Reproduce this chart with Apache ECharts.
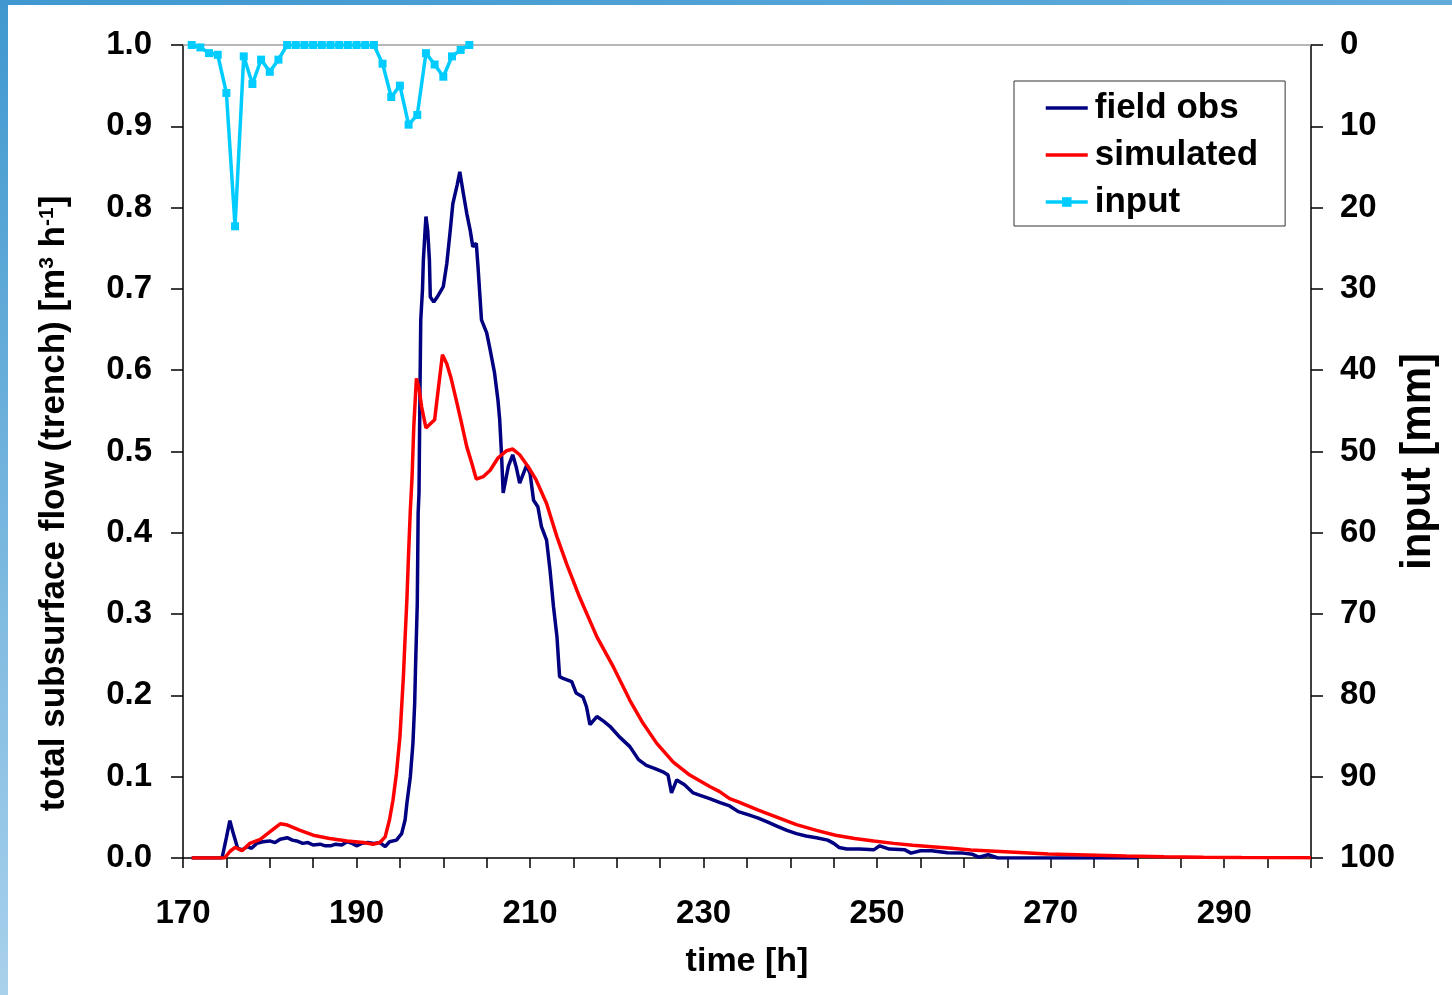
<!DOCTYPE html>
<html>
<head>
    <meta charset="utf-8">
    <title>subsurface flow</title>
    <script src="https://cdn.jsdelivr.net/npm/echarts@6/dist/echarts.min.js"></script>
    <style>
        html, body { margin: 0; padding: 0; background: #fff; }
        #main { width: 1452px; height: 995px; }
    </style>
</head>
<body>
<div id="main"></div>
<script type="text/javascript">
    // time [h], flow [m3/h]
    var fieldObs = [
        [171, 0], [174.5, 0], [175.0, 0.025], [175.4, 0.046], [175.8, 0.03], [176.3, 0.012], [176.8, 0.01],
        [177.4, 0.014], [177.9, 0.012], [178.5, 0.018], [179.2, 0.02], [180.0, 0.021], [180.6, 0.019],
        [181.2, 0.023], [182.0, 0.025], [182.6, 0.022], [183.1, 0.021], [183.8, 0.018], [184.4, 0.019],
        [185.0, 0.016], [185.8, 0.017], [186.4, 0.015], [187.0, 0.015], [187.6, 0.017], [188.3, 0.016],
        [188.9, 0.02], [189.5, 0.018], [190.0, 0.015], [190.6, 0.018], [191.3, 0.019], [192.0, 0.018],
        [192.7, 0.019], [193.3, 0.014], [193.8, 0.02], [194.6, 0.022], [195.2, 0.030], [195.6, 0.047],
        [195.8, 0.067], [196.2, 0.100], [196.5, 0.141], [196.7, 0.190], [196.8, 0.235], [197.0, 0.313],
        [197.1, 0.424], [197.2, 0.449], [197.3, 0.563], [197.4, 0.662], [197.6, 0.699], [197.7, 0.735],
        [197.9, 0.772], [198.0, 0.789], [198.2, 0.772], [198.4, 0.735], [198.5, 0.690], [198.9, 0.684],
        [199.3, 0.69], [199.8, 0.699], [200.0, 0.703], [200.4, 0.731], [200.8, 0.772], [201.1, 0.805],
        [201.6, 0.828], [201.9, 0.844], [202.3, 0.818], [202.7, 0.793], [203.1, 0.772], [203.4, 0.752],
        [203.8, 0.756], [204.0, 0.727], [204.4, 0.662], [205.0, 0.646], [205.4, 0.625], [205.9, 0.597],
        [206.3, 0.563], [206.5, 0.539], [206.7, 0.498], [206.9, 0.449], [207.5, 0.482], [208.0, 0.496],
        [208.4, 0.481], [208.8, 0.461], [209.6, 0.483], [210.0, 0.473], [210.4, 0.44], [210.9, 0.432],
        [211.3, 0.408], [211.9, 0.391], [212.3, 0.354], [212.7, 0.309], [213.1, 0.272], [213.4, 0.223],
        [213.8, 0.221], [214.8, 0.217], [215.3, 0.203], [216.1, 0.198], [216.5, 0.186], [216.9, 0.164],
        [217.7, 0.174], [218.5, 0.168], [219.2, 0.162], [220.3, 0.149], [221.5, 0.137], [222.5, 0.121],
        [223.4, 0.114], [224.4, 0.110], [225.3, 0.106], [225.9, 0.102], [226.3, 0.080], [226.9, 0.096],
        [227.8, 0.090], [228.8, 0.080], [229.6, 0.077], [230.7, 0.073], [231.9, 0.068], [233.0, 0.064],
        [234.0, 0.057], [235.2, 0.053], [236.3, 0.049], [237.4, 0.044], [238.5, 0.039], [239.6, 0.034],
        [240.7, 0.030], [241.8, 0.027], [243.0, 0.025], [244.3, 0.022], [245.0, 0.018], [245.6, 0.013],
        [246.5, 0.011], [248.0, 0.011], [249.6, 0.010], [250.3, 0.015], [251.4, 0.011], [253.2, 0.010],
        [253.9, 0.006], [255.0, 0.009], [256.3, 0.009], [258.1, 0.0065], [259.9, 0.006], [261.0, 0.0045],
        [261.7, 0.001], [262.8, 0.004], [263.9, 0], [280, 0]
    ];

    var simulated = [
        [171, 0], [174.8, 0], [175.4, 0.008], [176.0, 0.013], [176.8, 0.009], [177.7, 0.018], [178.9, 0.023],
        [180.0, 0.032], [181.2, 0.042], [181.9, 0.041], [183.5, 0.034], [185.0, 0.028], [186.9, 0.024],
        [188.9, 0.021], [190.8, 0.019], [191.9, 0.017], [192.7, 0.019], [193.3, 0.026], [193.8, 0.047],
        [194.2, 0.071], [194.6, 0.104], [195.0, 0.149], [195.2, 0.186], [195.4, 0.223], [195.6, 0.272],
        [195.8, 0.317], [196.0, 0.375], [196.2, 0.428], [196.4, 0.469], [196.6, 0.531], [196.9, 0.590],
        [197.2, 0.578], [197.5, 0.555], [198.0, 0.529], [199.0, 0.539], [199.4, 0.575], [199.9, 0.619],
        [200.4, 0.608], [200.9, 0.590], [201.5, 0.563], [202.1, 0.535], [202.7, 0.506], [203.3, 0.485],
        [203.8, 0.466], [204.6, 0.469], [205.4, 0.477], [206.3, 0.492], [207.3, 0.501], [208.0, 0.503],
        [208.8, 0.496], [209.8, 0.481], [210.7, 0.465], [211.9, 0.436], [213.1, 0.395], [214.2, 0.362],
        [215.7, 0.321], [217.7, 0.272], [219.6, 0.235], [221.5, 0.194], [223.0, 0.166], [224.6, 0.141],
        [226.5, 0.118], [228.4, 0.102], [230.7, 0.088], [231.8, 0.082], [233.0, 0.073], [234.0, 0.069],
        [236.3, 0.059], [238.5, 0.050], [240.7, 0.041], [243.0, 0.034], [245.2, 0.028], [247.4, 0.024],
        [249.6, 0.021], [251.9, 0.018], [254.1, 0.0156], [256.3, 0.0139], [258.6, 0.012], [260.8, 0.0098],
        [265.3, 0.0074], [269.7, 0.0049], [274.2, 0.0037], [278.7, 0.0025], [283.1, 0.0016], [287.6, 0.0008],
        [292, 0.0006], [300, 0.0004]
    ];

    // hourly input [mm]
    var inputHours = [171, 172, 173, 174, 175, 176, 177, 178, 179, 180, 181, 182, 183, 184, 185, 186, 187,
        188, 189, 190, 191, 192, 193, 194, 195, 196, 197, 198, 199, 200, 201, 202, 203];
    var inputMm = [0, 0.3, 1.0, 1.2, 5.9, 22.3, 1.4, 4.8, 1.8, 3.3, 1.8, 0, 0, 0, 0, 0, 0,
        0, 0, 0, 0, 0, 2.3, 6.4, 5.0, 9.8, 8.6, 1.0, 2.4, 3.9, 1.4, 0.6, 0];

    var xTicks = [170, 190, 210, 230, 250, 270, 290];

    var FONT = "'Liberation Sans', Arial, sans-serif";

    var chart = echarts.init(document.getElementById('main'));

    chart.setOption({
        animation: false,
        backgroundColor: '#fff',
        textStyle: { fontFamily: FONT },
        graphic: [
            {
                type: 'rect', left: 0, top: 0, z: 100,
                shape: { width: 8, height: 995 },
                style: { fill: new echarts.graphic.LinearGradient(0, 0, 0, 1, [
                    { offset: 0, color: '#3f98cf' }, { offset: 1, color: '#a9d1ec' }]) }
            },
            {
                type: 'rect', left: 0, top: 0, z: 100,
                shape: { width: 1452, height: 5 },
                style: { fill: new echarts.graphic.LinearGradient(0, 0, 1, 0, [
                    { offset: 0, color: '#3f98cf' }, { offset: 1, color: '#62acdc' }]) }
            }
        ],
        grid: { left: 183, right: 141, top: 45, bottom: 137, outerBoundsMode: 'none', containLabel: false },
        legend: {
            orient: 'vertical',
            left: 1014,
            top: 81,
            padding: [9, 27, 6, 30],
            itemWidth: 42,
            itemHeight: 12,
            itemGap: 11,
            borderColor: '#333',
            borderWidth: 1,
            backgroundColor: '#fff',
            textStyle: { fontFamily: FONT, fontSize: 35, fontWeight: 'bold', color: '#000', lineHeight: 36, padding: [0, 0, 0, 2] },
            data: [
                { name: 'field obs', itemStyle: { opacity: 0 }, lineStyle: { width: 3.5 } },
                { name: 'simulated', itemStyle: { opacity: 0 }, lineStyle: { width: 3.5 } },
                { name: 'input', lineStyle: { width: 3.5 } }
            ]
        },
        xAxis: [
            {
                type: 'value',
                min: 170,
                max: 300,
                interval: 10,
                name: 'time [h]',
                nameLocation: 'middle',
                nameGap: 87,
                nameTextStyle: { fontFamily: FONT, fontSize: 34, fontWeight: 'bold', color: '#000' },
                axisLine: { lineStyle: { color: '#000', width: 1.5 } },
                axisTick: { show: true, length: 10, lineStyle: { color: '#000', width: 1.5 } },
                minorTick: { show: true, splitNumber: 2, length: 10, lineStyle: { color: '#000', width: 1.5 } },
                splitLine: { show: false },
                axisLabel: {
                    margin: 39,
                    fontFamily: FONT, fontSize: 33, fontWeight: 'bold', color: '#000',
                    formatter: function (v) { return xTicks.indexOf(v) >= 0 ? String(v) : ''; }
                }
            },
            {
                type: 'value',
                position: 'top',
                min: 170,
                max: 300,
                axisLine: { show: true, lineStyle: { color: '#a0a0a0', width: 1.5 } },
                axisTick: { show: false },
                axisLabel: { show: false },
                splitLine: { show: false }
            }
        ],
        yAxis: [
            {
                type: 'value',
                min: 0,
                max: 1,
                interval: 0.1,
                name: 'total subsurface flow (trench) [m{sup|3} h{sup|-1}]',
                nameLocation: 'middle',
                nameGap: 111,
                nameTextStyle: {
                    fontFamily: FONT, fontSize: 35, fontWeight: 'bold', color: '#000',
                    padding: [0, 104, 0, 0],
                    rich: { sup: { fontFamily: FONT, fontSize: 21, fontWeight: 'bold', color: '#000', verticalAlign: 'top' } }
                },
                axisLine: { show: true, lineStyle: { color: '#000', width: 1.5 } },
                axisTick: { show: true, length: 12, lineStyle: { color: '#000', width: 1.5 } },
                splitLine: { show: false },
                axisLabel: {
                    margin: 31,
                    fontFamily: FONT, fontSize: 33, fontWeight: 'bold', color: '#000',
                    formatter: function (v) { return v.toFixed(1); }
                }
            },
            {
                type: 'value',
                position: 'right',
                inverse: true,
                min: 0,
                max: 100,
                interval: 10,
                name: 'input [mm]',
                nameLocation: 'middle',
                nameGap: 86,
                nameMoveOverlap: false,
                nameTextStyle: {
                    fontFamily: FONT, fontSize: 42, fontWeight: 'bold', color: '#000',
                    padding: [0, 20, 0, 0]
                },
                axisLine: { show: true, lineStyle: { color: '#000', width: 1.5 } },
                axisTick: { show: true, length: 12, lineStyle: { color: '#000', width: 1.5 } },
                splitLine: { show: false },
                axisLabel: { margin: 29, fontFamily: FONT, fontSize: 33, fontWeight: 'bold', color: '#000' }
            }
        ],
        series: [
            {
                name: 'field obs',
                type: 'line',
                symbol: 'none',
                color: '#000080',
                lineStyle: { width: 3.5, color: '#000080' },
                data: fieldObs
            },
            {
                name: 'simulated',
                type: 'line',
                symbol: 'none',
                color: '#ff0000',
                lineStyle: { width: 3.5, color: '#ff0000' },
                data: simulated
            },
            {
                name: 'input',
                type: 'line',
                yAxisIndex: 1,
                symbol: 'rect',
                symbolSize: 8,
                color: '#00ccff',
                itemStyle: { color: '#00ccff' },
                lineStyle: { width: 3.5, color: '#00ccff' },
                data: inputHours.map(function (h, i) { return [h, inputMm[i]]; })
            }
        ]
    });
</script>
</body>
</html>
